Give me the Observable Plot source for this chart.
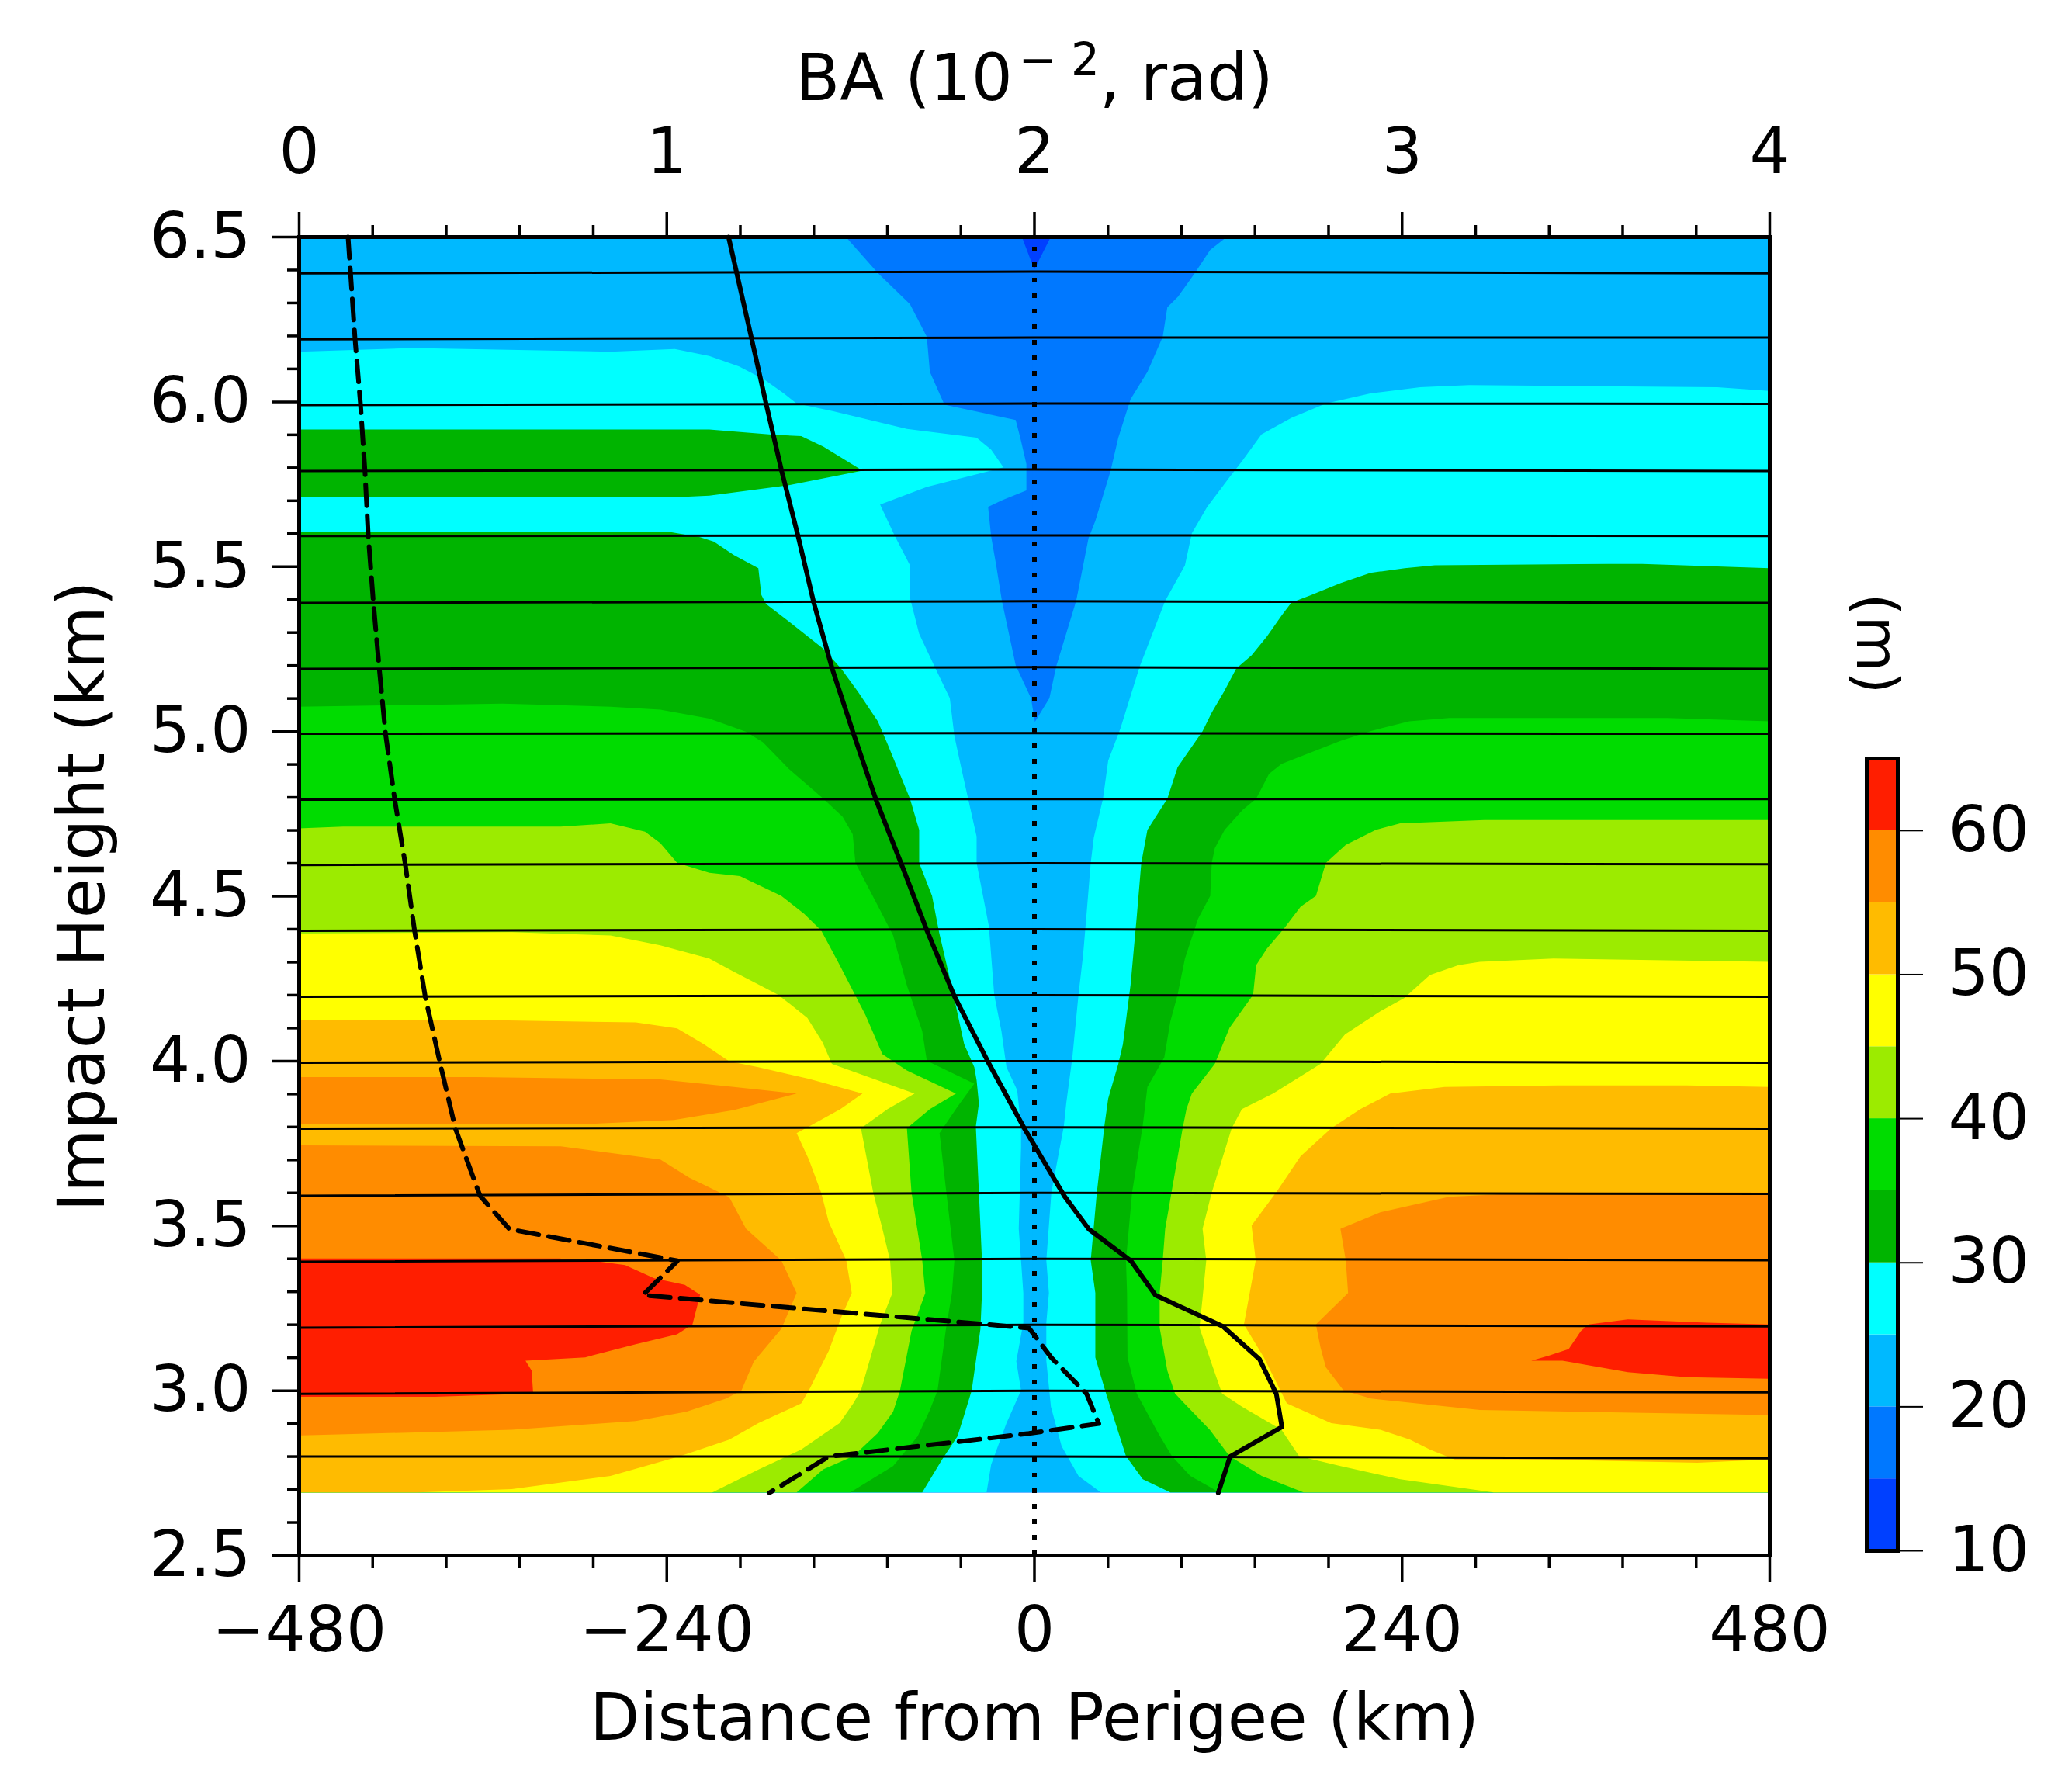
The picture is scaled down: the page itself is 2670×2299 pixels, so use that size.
<!DOCTYPE html>
<html>
<head>
<meta charset="utf-8">
<script src="https://cdn.jsdelivr.net/npm/d3@7"></script>
<script src="https://cdn.jsdelivr.net/npm/@observablehq/plot@0.6"></script>
<style>
  body { margin: 0; background: white; }
  #page { position: relative; width: 2670px; height: 2299px; overflow: hidden; }
  #colorbar { position: absolute; left: 2340px; top: 740px; }
</style>
</head>
<body>
<div id="page"><div id="main"></div><div id="colorbar"></div></div>
<script>
// contour levels (m) and their fill colours
const levels = [10, 15, 20, 25, 30, 35, 40, 45, 50, 55, 60];
const levelColors = ["#0040ff", "#0078ff", "#00b9ff", "#00ffff", "#00b400", "#00dc00", "#9ceb00", "#ffff00", "#ffbb00", "#ff8c00", "#ff1e00"];

// contour edges as [impact height km, distance km]
// left* = level exceeded from -480 up to that distance, right* = from that distance to 480
const left10 = [[6.5, 1], [2.69, 1]];
const right10 = [[6.5, -1], [2.69, -1]];
const left15 = [[6.5, -8], [6.39, 1], [2.69, 1]];
const right15 = [[6.5, 11], [6.39, -1], [2.69, -1]];
const left20 = [[6.5, -123], [6.39, -102], [6.295, -81], [6.196, -70], [6.09, -68], [5.99, -58.5], [5.944, -12], [5.89, -9], [5.81, -5], [5.73, -5], [5.70, -21], [5.68, -30], [5.59, -28], [5.50, -24.6], [5.395, -21], [5.20, -12], [5.10, -2], [5.016, 1], [2.69, 1]];
const right20 = [[6.5, 126], [6.46, 115], [6.39, 105], [6.318, 94], [6.286, 87], [6.196, 84], [6.09, 74], [6.007, 63], [5.89, 55], [5.79, 50], [5.638, 40], [5.584, 35.5], [5.395, 27.5], [5.197, 14.5], [5.10, 10], [5.016, -1], [2.69, -1]];
const left25 = [[6.151, -480], [6.162, -406], [6.151, -276.5], [6.159, -234.5], [6.138, -212], [6.106, -192.5], [6.066, -176], [6.025, -163.5], [5.994, -155], [5.97, -131], [5.917, -83], [5.89, -37.5], [5.854, -28], [5.80, -20], [5.741, -70], [5.687, -100.5], [5.593, -91], [5.503, -81], [5.404, -81], [5.295, -75], [5.196, -65], [5.10, -55], [4.985, -52], [4.877, -47], [4.68, -37.5], [4.60, -37.5], [4.408, -29.5], [4.20, -26], [4.09, -21.3], [3.98, -18], [3.91, -11], [3.80, -8.5], [3.736, -8.5], [3.49, -10], [3.394, -8.5], [3.295, -7], [3.205, -7], [3.088, -11.6], [3.0, -8.5], [2.90, -18], [2.775, -28], [2.69, -31]];
const right25 = [[6.032, 480], [6.043, 446], [6.05, 284], [6.043, 252], [6.025, 220], [5.994, 190.5], [5.95, 168], [5.90, 148.5], [5.818, 135.6], [5.77, 127.6], [5.68, 113], [5.60, 103], [5.503, 98.5], [5.395, 85.6], [5.196, 69], [5.01, 56.5], [4.91, 48.4], [4.795, 45], [4.677, 39], [4.60, 37], [4.43, 34], [4.32, 32], [4.20, 29], [4.01, 25], [3.87, 21], [3.80, 19.4], [3.60, 11.3], [3.394, 8], [3.295, 9.7], [3.205, 8], [3.09, 8], [2.95, 11], [2.83, 18], [2.74, 29], [2.69, 43.6]];
const left30top = [[5.915, -212], [5.899, -170], [5.895, -152], [5.863, -137.6], [5.79, -112], [5.746, -160], [5.714, -212], [5.71, -231], [5.71, -457]];
const left30 = [[5.604, -238], [5.588, -218], [5.575, -209], [5.534, -196], [5.494, -180], [5.413, -178], [5.386, -175], [5.332, -160], [5.25, -137.6], [5.19, -126], [5.12, -115], [5.03, -102], [4.96, -95.6], [4.795, -81], [4.70, -75], [4.60, -75], [4.50, -66.6], [4.39, -62], [4.23, -54], [4.05, -45.6], [3.98, -39], [3.94, -37.5], [3.87, -36], [3.80, -38], [3.60, -36], [3.394, -34], [3.295, -34], [3.186, -35], [3.0, -40.7], [2.925, -45.6], [2.86, -50], [2.79, -60], [2.69, -73]];
const right30 = [[5.494, 480], [5.507, 397], [5.507, 375], [5.503, 261.6], [5.494, 242], [5.48, 219.6], [5.449, 200], [5.413, 181], [5.39, 168], [5.35, 161.5], [5.287, 152], [5.23, 142], [5.19, 132], [5.12, 124], [5.056, 116], [5.0, 110], [4.89, 93.7], [4.795, 87], [4.70, 74], [4.60, 70], [4.435, 67], [4.23, 63], [4.05, 58], [3.99, 55], [3.885, 48.4], [3.805, 46], [3.60, 41], [3.394, 37], [3.295, 40], [3.10, 40], [2.99, 47], [2.80, 60], [2.73, 71], [2.69, 89]];
const left35 = [[5.074, -480], [5.083, -347], [5.074, -276.5], [5.065, -244], [5.038, -212], [4.998, -188], [4.966, -177], [4.885, -160], [4.795, -137.6], [4.74, -125], [4.687, -118.4], [4.60, -116.6], [4.47, -102], [4.38, -92], [4.228, -83], [4.09, -73], [4.0, -70], [3.93, -39], [3.86, -50], [3.78, -61.7], [3.59, -57], [3.394, -52], [3.295, -53.6], [3.186, -57.5], [3.0, -63], [2.94, -68], [2.86, -76], [2.77, -92], [2.69, -120]];
const right35 = [[5.03, 480], [5.04, 413.4], [5.04, 368], [5.04, 271], [5.03, 245], [5.0, 219.6], [4.97, 200], [4.90, 161.5], [4.87, 153.4], [4.795, 145], [4.76, 136], [4.70, 124.4], [4.645, 118], [4.60, 116], [4.50, 115], [4.43, 107], [4.31, 98.5], [4.20, 93.7], [4.12, 89], [4.01, 85], [3.92, 74], [3.805, 71], [3.60, 64], [3.394, 60], [3.295, 60.7], [3.10, 61], [2.99, 67], [2.87, 81], [2.80, 90], [2.74, 102], [2.69, 121]];
const left40 = [[4.705, -480], [4.71, -451], [4.71, -309], [4.72, -276.5], [4.695, -254], [4.66, -244], [4.60, -233], [4.57, -212], [4.56, -192], [4.50, -165], [4.445, -150], [4.395, -139], [4.30, -128], [4.21, -118], [4.138, -110], [4.02, -99], [3.97, -83], [3.90, -51], [3.853, -68], [3.795, -83], [3.60, -80], [3.394, -73], [3.295, -71], [3.18, -80], [3.0, -87.5], [2.935, -92], [2.87, -102], [2.80, -118], [2.76, -137.6], [2.69, -155]];
const right40 = [[4.73, 480], [4.73, 381], [4.73, 294], [4.72, 239], [4.70, 223], [4.655, 203.5], [4.60, 190.5], [4.50, 184], [4.467, 174], [4.40, 163], [4.34, 152], [4.29, 145], [4.20, 143], [4.10, 127.6], [3.99, 118], [3.90, 103], [3.853, 99.5], [3.795, 97], [3.49, 85.6], [3.394, 84], [3.295, 82], [3.19, 82], [3.06, 87], [2.99, 92], [2.88, 114.7], [2.80, 127.6], [2.74, 148.6], [2.69, 176]];
const left45 = [[4.386, -480], [4.39, -341], [4.38, -276.5], [4.35, -244], [4.31, -212], [4.27, -196], [4.20, -167], [4.13, -148], [4.055, -138], [3.99, -132], [3.90, -78], [3.853, -95.6], [3.795, -113], [3.60, -105], [3.49, -99], [3.394, -94], [3.295, -92.5], [3.20, -100.5], [3.0, -113], [2.96, -118], [2.90, -127], [2.82, -152], [2.76, -179.6], [2.69, -210]];
const right45 = [[4.30, 480], [4.31, 339], [4.30, 291], [4.29, 277], [4.26, 258.4], [4.19, 241.6], [4.15, 226], [4.08, 203], [3.99, 187], [3.90, 156], [3.853, 135.7], [3.795, 129], [3.60, 116], [3.49, 110], [3.394, 112.4], [3.28, 110], [3.19, 108], [3.08, 116], [2.99, 122.7], [2.95, 135.7], [2.88, 161.5], [2.80, 173], [2.77, 200], [2.73, 239], [2.69, 300]];
const left50 = [[4.124, -480], [4.124, -367], [4.116, -260], [4.098, -233], [4.05, -215.5], [3.998, -199], [3.98, -180], [3.945, -147], [3.90, -112], [3.853, -126.4], [3.80, -147], [3.78, -155], [3.70, -147], [3.60, -139], [3.51, -134], [3.394, -122.6], [3.295, -119], [3.22, -126], [3.12, -134], [3.0, -147], [2.96, -152], [2.90, -180], [2.85, -199], [2.80, -231], [2.74, -276.5], [2.70, -341], [2.69, -402.5]];
const right50 = [[3.92, 480], [3.925, 426], [3.925, 342], [3.92, 268], [3.90, 232.5], [3.853, 213], [3.795, 194], [3.71, 174], [3.60, 158], [3.50, 142], [3.394, 144.7], [3.20, 137], [3.10, 150], [2.96, 165], [2.90, 194], [2.88, 226], [2.85, 245.5], [2.82, 258.4], [2.79, 274.5], [2.79, 336], [2.78, 433], [2.79, 480]];
const left55top = [[3.95, -364], [3.943, -244], [3.92, -196], [3.90, -155], [3.85, -196], [3.82, -235], [3.808, -290]];
const left55 = [[3.743, -480], [3.74, -309], [3.70, -244], [3.645, -225], [3.586, -199], [3.49, -188], [3.394, -165], [3.295, -155], [3.186, -165], [3.087, -183], [3.0, -191], [2.975, -201], [2.935, -227], [2.907, -260], [2.88, -341], [2.863, -478]];
const right55 = [[3.60, 329], [3.587, 271], [3.54, 226], [3.49, 200], [3.394, 203.5], [3.295, 205], [3.20, 184], [3.13, 187], [3.07, 190.5], [3.0, 202], [2.975, 220], [2.94, 291], [2.925, 480]];
const left60 = [[3.40, -480], [3.40, -310], [3.39, -283], [3.38, -267], [3.34, -248], [3.32, -228], [3.29, -218], [3.20, -223], [3.17, -233], [3.14, -260], [3.10, -293], [3.09, -332], [3.06, -328], [2.99, -327], [2.98, -391]];
const right60 = [[3.20, 480], [3.205, 439], [3.215, 387.6], [3.20, 362], [3.18, 357], [3.125, 349], [3.105, 336], [3.09, 324.6], [3.09, 345], [3.055, 387.6], [3.04, 426], [3.035, 480]];

// ray lines: impact height at the left end, at perigee and at the right end
const rayLeft = [6.39, 6.19, 5.99, 5.79, 5.593, 5.39, 5.19, 4.993, 4.793, 4.595, 4.395, 4.195, 3.995, 3.795, 3.591, 3.391, 3.191, 2.99, 2.80];
const rayMid = [6.395, 6.195, 5.995, 5.795, 5.595, 5.395, 5.195, 4.995, 4.795, 4.6, 4.4, 4.2, 4.0, 3.799, 3.6, 3.4, 3.2, 3.0, 2.8];
const rayRight = [6.39, 6.195, 5.994, 5.79, 5.593, 5.39, 5.19, 4.993, 4.795, 4.597, 4.395, 4.195, 3.995, 3.795, 3.597, 3.396, 3.195, 2.995, 2.795];

// bending angle profiles (10^-2 rad)
const solidHeight = [6.5, 6.19, 5.99, 5.79, 5.593, 5.39, 5.19, 4.993, 4.793, 4.595, 4.395, 4.195, 3.995, 3.795, 3.591, 3.49, 3.394, 3.29, 3.195, 3.095, 2.99, 2.89, 2.80, 2.69];
const solidBA = [1.168, 1.231, 1.271, 1.3125, 1.357, 1.40, 1.45, 1.508, 1.569, 1.639, 1.708, 1.783, 1.875, 1.973, 2.081, 2.148, 2.2625, 2.329, 2.5125, 2.6125, 2.658, 2.673, 2.532, 2.5];
const dashedHeight = [6.5, 6.19, 5.99, 5.79, 5.593, 5.39, 5.19, 4.993, 4.793, 4.595, 4.395, 4.195, 3.995, 3.795, 3.591, 3.49, 3.394, 3.29, 3.19, 3.10, 2.99, 2.90, 2.87, 2.80, 2.69];
const dashedBA = [0.133, 0.152, 0.167, 0.179, 0.188, 0.202, 0.218, 0.235, 0.26, 0.289, 0.314, 0.343, 0.383, 0.425, 0.492, 0.572, 1.029, 0.935, 1.985, 2.046, 2.142, 2.175, 1.985, 1.44, 1.279];

// ticks
const xMajor = [-480, -240, 0, 240, 480];
const baLabels = ["0", "1", "2", "3", "4"];
const xMinor = [-432, -384, -336, -288, -192, -144, -96, -48, 48, 96, 144, 192, 288, 336, 384, 432];
const yMajor = [2.5, 3, 3.5, 4, 4.5, 5, 5.5, 6, 6.5];
const yMinor = [2.6, 2.7, 2.8, 2.9, 3.1, 3.2, 3.3, 3.4, 3.6, 3.7, 3.8, 3.9, 4.1, 4.2, 4.3, 4.4, 4.6, 4.7, 4.8, 4.9, 5.1, 5.2, 5.3, 5.4, 5.6, 5.7, 5.8, 5.9, 6.1, 6.2, 6.3, 6.4];
const barTicks = [10, 20, 30, 40, 50, 60];

const font = "DejaVu Sans";
const fontSize = 82;
const labelSize = 83.5;

const leftEdges = [[left10], [left15], [left20], [left25], [left30top, left30], [left35], [left40], [left45], [left50], [left55top, left55], [left60]];
const rightEdges = [[right10], [right15], [right20], [right25], [right30], [right35], [right40], [right45], [right50], [right55], [right60]];

const bandMarks = levels.flatMap((_, i) => [
    ...leftEdges[i].map((rows) =>
        Plot.areaX(rows, { x1: () => -480, x2: (d) => d[1], y: (d) => d[0], fill: levelColors[i] })
    ),
    ...rightEdges[i].map((rows) =>
        Plot.areaX(rows, { x1: (d) => d[1], x2: () => 480, y: (d) => d[0], fill: levelColors[i] })
    ),
]);

const rayRows = rayLeft.flatMap((h, i) => [
    { ray: i, x: -480, y: h },
    { ray: i, x: 0, y: rayMid[i] },
    { ray: i, x: 480, y: rayRight[i] },
]);

// BA shares the frame with distance: 0..4 on top runs over -480..480 below
const baToKm = (ba) => ba * 240 - 480;

const chart = Plot.plot({
    width: 2670,
    height: 2299,
    marginLeft: 385,
    marginRight: 390,
    marginTop: 305,
    marginBottom: 295,
    style: { fontFamily: font, background: "white", color: "black" },
    x: { domain: [-480, 480] },
    y: { domain: [2.5, 6.5] },
    marks: [
        ...bandMarks,
        Plot.line(rayRows, { x: "x", y: "y", z: "ray", stroke: "black", strokeWidth: 3 }),
        Plot.line(dashedBA, {
            x: (d) => baToKm(d),
            y: (d, i) => dashedHeight[i],
            stroke: "black",
            strokeWidth: 6,
            strokeDasharray: "27 13",
        }),
        Plot.line(solidBA, {
            x: (d) => baToKm(d),
            y: (d, i) => solidHeight[i],
            stroke: "black",
            strokeWidth: 6,
        }),
        Plot.ruleX([0], { y1: 2.5, y2: 6.5, stroke: "black", strokeWidth: 6, strokeDasharray: "6 14" }),
        Plot.frame({ stroke: "black", strokeWidth: 5 }),
        Plot.axisX(xMajor, { anchor: "bottom", label: null, tickSize: 35, tickPadding: 30, strokeWidth: 3.5, fontSize, tickFormat: (d) => d3.format("d")(d) }),
        Plot.axisX(xMinor, { anchor: "bottom", label: null, tickSize: 17, strokeWidth: 3.5, fill: "none" }),
        Plot.axisX(xMajor, { anchor: "top", label: null, tickSize: 33, tickPadding: 50, strokeWidth: 3.5, fontSize, tickFormat: (d, i) => baLabels[i] }),
        Plot.axisX(xMinor, { anchor: "top", label: null, tickSize: 16, strokeWidth: 3.5, fill: "none" }),
        Plot.axisY(yMajor, { anchor: "left", label: null, tickSize: 34, tickPadding: 28, strokeWidth: 3.5, fontSize, tickFormat: (d) => d3.format(".1f")(d) }),
        Plot.axisY(yMinor, { anchor: "left", label: null, tickSize: 15, strokeWidth: 3.5, fill: "none" }),
        Plot.text(["Distance from Perigee (km)"], { frameAnchor: "bottom", dy: 237, fontSize: labelSize, fill: "black" }),
        Plot.text(["BA (10 - 2, rad)"], { frameAnchor: "top", dy: -236, fontSize: labelSize, fill: "black" }),
        Plot.text(["Impact Height (km)"], { frameAnchor: "left", textAnchor: "middle", dx: -278, rotate: -90, fontSize: labelSize, fill: "black" }),
    ],
});
document.getElementById("main").appendChild(chart);

// the exponent in the top label is raised, Plot.text has no superscript
const baLabel = d3.select(chart).selectAll("text").filter(function () {
    return this.textContent.startsWith("BA (");
});
baLabel.text(null);
baLabel.append("tspan").text("BA (10");
baLabel.append("tspan").attr("dy", -32).attr("font-size", 58).attr("dx", 8).text("\u2212 2");
baLabel.append("tspan").attr("dy", 32).text(", rad)");

const bar = Plot.plot({
    width: 330,
    height: 1340,
    marginLeft: 65,
    marginRight: 225,
    marginTop: 237,
    marginBottom: 82,
    style: { fontFamily: font, background: "transparent", color: "black" },
    x: { domain: [0, 1], axis: null },
    y: { domain: [10, 65] },
    color: { type: "identity" },
    marks: [
        Plot.rect(levels, { x1: 0, x2: 1, y1: (d) => d, y2: (d) => d + 5, fill: (d, i) => levelColors[i], inset: 0 }),
        Plot.frame({ stroke: "black", strokeWidth: 5 }),
        Plot.axisY(barTicks, { anchor: "right", label: null, tickSize: 32, tickPadding: 33, strokeWidth: 2, fontSize }),
        Plot.text(["(m)"], { frameAnchor: "top", dy: -148, dx: 20, rotate: 90, fontSize: 74, fill: "black" }),
    ],
});
document.getElementById("colorbar").appendChild(bar);
</script>
</body>
</html>
